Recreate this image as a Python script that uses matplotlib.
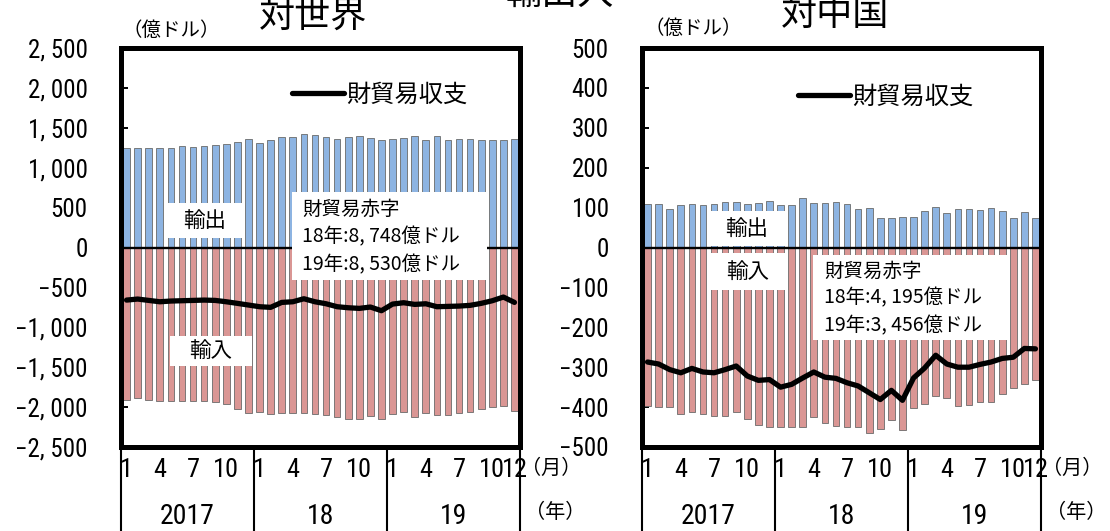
import matplotlib
matplotlib.use("Agg")
import matplotlib.pyplot as plt
from matplotlib import font_manager as fm
from matplotlib.font_manager import FontProperties
from matplotlib.patches import Rectangle

# ---- data (億ドル) ----
years = ["2017", "18", "19"]
shown_months = [[1, 4, 7, 10], [1, 4, 7, 10], [1, 4, 7, 10, 12]]

world_exports = [1250, 1250, 1250, 1246, 1250, 1267, 1263, 1271, 1288, 1292, 1325, 1354,
                 1313, 1346, 1388, 1388, 1425, 1404, 1379, 1363, 1388, 1392, 1375, 1350,
                 1354, 1375, 1392, 1346, 1392, 1350, 1363, 1363, 1346, 1342, 1350, 1363]
world_imports = [1915, 1890, 1905, 1920, 1920, 1925, 1920, 1920, 1940, 1965, 2030, 2072,
                 2057, 2090, 2078, 2075, 2075, 2092, 2100, 2130, 2150, 2152, 2110, 2150,
                 2085, 2063, 2120, 2075, 2100, 2095, 2080, 2065, 2025, 2000, 1985, 2050]
world_balance = [-659, -646, -663, -680, -671, -667, -663, -659, -663, -680, -700, -721,
                 -742, -750, -688, -680, -642, -680, -705, -742, -755, -763, -746, -792,
                 -709, -692, -713, -705, -742, -738, -734, -725, -700, -667, -621, -688]

china_exports = [108, 108, 97, 106, 108, 106, 108, 115, 114, 110, 111, 117,
                 106, 107, 123, 112, 112, 115, 108, 97, 100, 75, 75, 77,
                 77, 92, 102, 86, 97, 97, 95, 100, 91, 75, 88, 75]
china_imports = [397, 400, 400, 417, 412, 417, 422, 422, 412, 431, 445, 450,
                 450, 449, 449, 425, 439, 447, 450, 451, 464, 455, 432, 458,
                 402, 392, 373, 378, 397, 395, 387, 387, 368, 352, 342, 331]
china_balance = [-287, -292, -306, -314, -303, -312, -314, -306, -297, -322, -333, -331,
                 -350, -343, -327, -312, -325, -328, -339, -347, -364, -381, -358, -383,
                 -327, -302, -270, -292, -300, -300, -293, -287, -278, -275, -253, -254]

world_ticks = [2500, 2000, 1500, 1000, 500, 0, -500, -1000, -1500, -2000, -2500]
world_ticklabels = ["2, 500", "2, 000", "1, 500", "1, 000", "500", "0", "−500",
                    "−1, 000", "−1, 500", "−2, 000", "−2, 500"]
china_ticks = [500, 400, 300, 200, 100, 0, -100, -200, -300, -400, -500]
china_ticklabels = ["500", "400", "300", "200", "100", "0", "−100", "−200",
                    "−300", "−400", "−500"]

world_note = ["財貿易赤字", "18年:8, 748億ドル", "19年:8, 530億ドル"]
china_note = ["財貿易赤字", "18年:4, 195億ドル", "19年:3, 456億ドル"]


# ---- fonts: a narrow face for numerals when one is installed ----
def narrow_font_file():
    entries = [f for f in fm.fontManager.ttflist
               if f.style == "normal" and f.weight in (400, "normal", "regular", "book")]
    for key in ("Liberation Sans Narrow", "Arial Narrow", "Roboto Condensed",
                "Noto Sans Condensed", "Open Sans Condensed", "DejaVu Sans Condensed"):
        for f in entries:
            if f.name == key:
                return f.fname
    for fam in ("Liberation Sans", "Noto Sans", "Roboto", "DejaVu Sans", "Open Sans", "Lato"):
        for f in entries:
            if f.name == fam and (str(f.stretch) in ("condensed", "semi-condensed",
                                                      "extra-condensed")
                                  or "ondensed" in f.fname or "Narrow" in f.fname):
                return f.fname
    return None


NARROW = narrow_font_file()
CJK = ["Noto Sans CJK JP", "DejaVu Sans"]


def num_font(size):
    if NARROW:
        return FontProperties(fname=NARROW, size=size)
    return FontProperties(family=CJK, size=size * 0.9)


BLUE = "#8db4e2"
RED = "#da9694"
EDGE = "#6a6a6a"

W, H = 1110, 531
fig = plt.figure(figsize=(W / 100, H / 100), dpi=100)
fig.patch.set_facecolor("white")

X0_L, X0_R, AX_W = 121, 642, 399
Y_TOP, Y_BOT = 48, 447
AX_H = Y_BOT - Y_TOP


def add_axes(x0):
    return fig.add_axes([x0 / W, 1 - Y_BOT / H, AX_W / W, AX_H / H])


def to_ax(x0, px, py):
    return (px - x0) / AX_W, (Y_BOT - py) / AX_H


def white_box(ax, x0, px0, py0, px1, py1):
    ax0, ay1 = to_ax(x0, px0, py0)
    ax1, ay0 = to_ax(x0, px1, py1)
    ax.add_patch(Rectangle((ax0, ay0), ax1 - ax0, ay1 - ay0, transform=ax.transAxes,
                           facecolor="white", edgecolor="none", zorder=4))


def panel(ax, x0, exports, imports, balance, lim, ticks, ticklabels,
          legend_xy, box_out, box_in, note_box, note_x, note_lines, note_ys):
    n = len(exports)
    xs = list(range(n))
    ax.bar(xs, exports, width=0.6, color=BLUE, edgecolor=EDGE, linewidth=0.6, zorder=2)
    ax.bar(xs, [-v for v in imports], width=0.6, color=RED, edgecolor=EDGE,
           linewidth=0.6, zorder=2)
    ax.axhline(0, color="black", linewidth=1.7, zorder=3)
    line, = ax.plot(xs, balance, color="black", linewidth=3.8, solid_joinstyle="round",
                    solid_capstyle="round", zorder=6, label="財貿易収支")

    ax.set_xlim(-0.5, n - 0.5)
    ax.set_ylim(-lim, lim)
    ax.set_xticks([])
    ax.set_yticks(ticks)
    ax.set_yticklabels(ticklabels, fontproperties=num_font(18))
    ax.tick_params(axis="y", direction="in", length=5, width=1.4, pad=24)
    for s in ax.spines.values():
        s.set_linewidth(3.6)
        s.set_zorder(7)

    # legend
    lx, ly = to_ax(x0, *legend_xy)
    ax.legend(handles=[line], loc="center left", bbox_to_anchor=(lx, ly),
              frameon=False, borderpad=0, borderaxespad=0, handlelength=2.15,
              handletextpad=0.08, prop={"family": CJK, "size": 17.5})

    # 輸出 / 輸入 labels
    for (bx0, by0, bx1, by1), txt in ((box_out, "輸出"), (box_in, "輸入")):
        white_box(ax, x0, bx0, by0, bx1, by1)
        cx, cy = to_ax(x0, (bx0 + bx1) / 2, (by0 + by1) / 2)
        ax.text(cx, cy, txt, transform=ax.transAxes, ha="center", va="center",
                family=CJK, fontsize=15.5, zorder=5)

    # deficit note
    white_box(ax, x0, *note_box)
    for txt, py in zip(note_lines, note_ys):
        tx, ty = to_ax(x0, note_x, py)
        ax.text(tx, ty, txt, transform=ax.transAxes, ha="left", va="center",
                family=CJK, fontsize=14, zorder=5)

    # month / year table under the plot
    trans = ax.get_xaxis_transform()
    y_bottom = (Y_BOT - H) / AX_H
    for b in [-0.5, 11.5, 23.5, 35.5]:
        ax.plot([b, b], [0, y_bottom], transform=trans, color="black", linewidth=1.5,
                clip_on=False, zorder=1)
    y_month = (Y_BOT - 470) / AX_H
    y_year = (Y_BOT - 516) / AX_H
    for yi, (yr, months) in enumerate(zip(years, shown_months)):
        for m in months:
            ax.text(yi * 12 + m - 1, y_month, str(m), transform=trans, ha="center",
                    va="center", fontproperties=num_font(19), clip_on=False)
        ax.text(yi * 12 + 5.5, y_year, yr, transform=trans, ha="center", va="center",
                fontproperties=num_font(20), clip_on=False)
    mx, _ = to_ax(x0, x0 + AX_W + 1, 0)
    ax.text(mx, y_month + 0.005, "（月）", transform=ax.transAxes, ha="left",
            va="center", family=CJK, fontsize=14.5, clip_on=False)
    ax.text(mx + 0.01, y_year + 0.008, "（年）", transform=ax.transAxes, ha="left",
            va="center", family=CJK, fontsize=14.5, clip_on=False)


axL = add_axes(X0_L)
panel(axL, X0_L, world_exports, world_imports, world_balance, 2500,
      world_ticks, world_ticklabels,
      (292, 95), (165, 203, 245, 238), (170, 336, 252, 366),
      (292, 192, 487, 280), 302, world_note, [209, 237, 265])

axR = add_axes(X0_R)
panel(axR, X0_R, china_exports, china_imports, china_balance, 500,
      china_ticks, china_ticklabels,
      (798, 97), (708, 211, 785, 246), (708, 253, 788, 290),
      (813, 255, 1010, 340), 824, china_note, [271, 298, 326])

# titles and units
fig.text(313 / W, 1 - 17 / H, "対世界", family=CJK, fontsize=26, ha="center", va="center")
fig.text(835 / W, 1 - 15 / H, "対中国", family=CJK, fontsize=26, ha="center", va="center")
fig.text(560 / W, 1 + 6 / H, "輸出入", family=CJK, fontsize=26, ha="center", va="center")
fig.text(122 / W, 1 - 30 / H, "（億ドル）", family=CJK, fontsize=14, ha="left", va="center")
fig.text(645 / W, 1 - 28 / H, "（億ドル）", family=CJK, fontsize=14, ha="left", va="center")

fig.savefig("out.png", dpi=100)
